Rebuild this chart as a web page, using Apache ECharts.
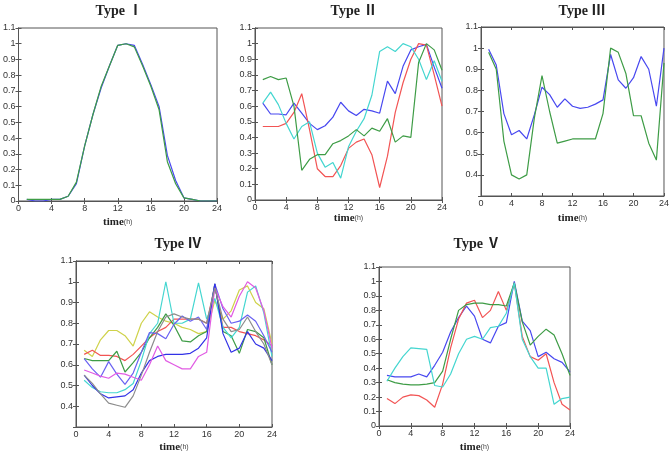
<!DOCTYPE html>
<html>
<head>
<meta charset="utf-8">
<script src="https://cdn.jsdelivr.net/npm/echarts@6/dist/echarts.min.js"></script>
<style>
  html, body { margin: 0; padding: 0; background: #fff; }
  #chart { width: 672px; height: 454px; }
</style>
</head>
<body>
<div id="chart"></div>
<script>
// hours 1..24
const hours = [1, 2, 3, 4, 5, 6, 7, 8, 9, 10, 11, 12, 13, 14, 15, 16, 17, 18, 19, 20, 21, 22, 23, 24];
const xTicks = [0, 4, 8, 12, 16, 20, 24];

// Type I
const t1Blue = [0.01, 0.0, 0.0, 0.01, 0.01, 0.03, 0.11, 0.35, 0.55, 0.72, 0.86, 0.99, 1.0, 0.99, 0.87, 0.74, 0.6, 0.29, 0.13, 0.02, 0.01, 0.0, 0.0, 0.0];
const t1Green = [0.01, 0.01, 0.01, 0.01, 0.01, 0.03, 0.12, 0.35, 0.55, 0.73, 0.86, 0.99, 1.0, 0.98, 0.86, 0.73, 0.58, 0.25, 0.11, 0.02, 0.01, 0.0, 0.0, 0.0];

// Type II
const t2Blue = [0.62, 0.55, 0.55, 0.545, 0.62, 0.555, 0.49, 0.45, 0.475, 0.53, 0.625, 0.57, 0.54, 0.58, 0.57, 0.555, 0.76, 0.68, 0.855, 0.96, 0.98, 0.995, 0.85, 0.715];
const t2Red = [0.47, 0.47, 0.47, 0.49, 0.56, 0.68, 0.45, 0.2, 0.15, 0.15, 0.22, 0.33, 0.37, 0.39, 0.29, 0.08, 0.28, 0.56, 0.75, 0.9, 1.0, 0.99, 0.8, 0.6];
const t2Cyan = [0.62, 0.69, 0.61, 0.49, 0.39, 0.47, 0.5, 0.3, 0.21, 0.24, 0.14, 0.34, 0.44, 0.52, 0.67, 0.95, 0.98, 0.95, 1.0, 0.98, 0.9, 0.77, 0.89, 0.76];
const t2Green = [0.77, 0.79, 0.77, 0.78, 0.6, 0.19, 0.26, 0.29, 0.29, 0.36, 0.38, 0.41, 0.45, 0.41, 0.46, 0.44, 0.52, 0.37, 0.41, 0.4, 0.88, 1.0, 0.96, 0.83];

// Type III
const t3Blue = [0.995, 0.92, 0.69, 0.59, 0.61, 0.57, 0.685, 0.815, 0.78, 0.72, 0.76, 0.725, 0.715, 0.72, 0.735, 0.755, 0.97, 0.85, 0.81, 0.86, 0.96, 0.9, 0.725, 1.0];
const t3Green = [0.98, 0.9, 0.56, 0.4, 0.38, 0.4, 0.67, 0.87, 0.7, 0.55, 0.56, 0.57, 0.57, 0.57, 0.57, 0.69, 1.0, 0.98, 0.88, 0.68, 0.68, 0.55, 0.47, 0.93];

// Type IV
const t4Yellow = [0.67, 0.64, 0.72, 0.765, 0.765, 0.74, 0.69, 0.8, 0.855, 0.83, 0.81, 0.8, 0.78, 0.77, 0.75, 0.76, 0.91, 0.82, 0.86, 0.96, 0.98, 0.9, 0.87, 0.7];
const t4Red = [0.65, 0.67, 0.645, 0.645, 0.64, 0.62, 0.65, 0.69, 0.73, 0.76, 0.78, 0.82, 0.82, 0.82, 0.82, 0.8, 0.98, 0.78, 0.78, 0.76, 0.75, 0.74, 0.72, 0.69];
const t4Green = [0.63, 0.62, 0.62, 0.62, 0.665, 0.565, 0.61, 0.66, 0.73, 0.78, 0.845, 0.79, 0.715, 0.71, 0.74, 0.76, 0.99, 0.76, 0.74, 0.655, 0.77, 0.76, 0.73, 0.6];
const t4Cyan = [0.525, 0.49, 0.47, 0.465, 0.465, 0.48, 0.51, 0.62, 0.75, 0.8, 1.0, 0.8, 0.8, 0.82, 0.995, 0.82, 0.92, 0.78, 0.73, 0.78, 0.95, 0.98, 0.85, 0.64];
const t4Blue = [0.63, 0.58, 0.54, 0.615, 0.555, 0.505, 0.56, 0.66, 0.755, 0.75, 0.725, 0.795, 0.835, 0.81, 0.83, 0.77, 0.99, 0.87, 0.8, 0.81, 0.84, 0.81, 0.74, 0.66];
const t4Navy = [0.55, 0.5, 0.46, 0.44, 0.445, 0.45, 0.48, 0.56, 0.62, 0.64, 0.65, 0.65, 0.65, 0.655, 0.68, 0.73, 0.99, 0.75, 0.66, 0.68, 0.76, 0.7, 0.68, 0.62];
const t4Magenta = [0.575, 0.56, 0.545, 0.535, 0.56, 0.555, 0.54, 0.525, 0.6, 0.69, 0.62, 0.6, 0.58, 0.58, 0.64, 0.66, 0.97, 0.88, 0.83, 0.93, 1.0, 0.97, 0.86, 0.68];
const t4Gray = [0.55, 0.51, 0.46, 0.415, 0.405, 0.395, 0.45, 0.55, 0.66, 0.76, 0.83, 0.845, 0.83, 0.82, 0.82, 0.8, 0.97, 0.82, 0.76, 0.77, 0.83, 0.76, 0.7, 0.6];

// Type V
const t5Blue = [0.35, 0.34, 0.34, 0.34, 0.36, 0.34, 0.42, 0.51, 0.65, 0.75, 0.83, 0.76, 0.6, 0.575, 0.69, 0.715, 1.0, 0.725, 0.66, 0.48, 0.51, 0.465, 0.44, 0.375];
const t5Red = [0.19, 0.155, 0.2, 0.215, 0.21, 0.18, 0.13, 0.29, 0.54, 0.74, 0.85, 0.87, 0.75, 0.8, 0.93, 0.8, 0.99, 0.62, 0.48, 0.455, 0.5, 0.3, 0.15, 0.11];
const t5Green = [0.32, 0.3, 0.29, 0.285, 0.285, 0.29, 0.3, 0.38, 0.6, 0.8, 0.84, 0.85, 0.85, 0.84, 0.84, 0.83, 0.99, 0.72, 0.56, 0.62, 0.67, 0.63, 0.5, 0.35];
const t5Cyan = [0.31, 0.4, 0.48, 0.54, 0.535, 0.53, 0.28, 0.27, 0.36, 0.5, 0.6, 0.62, 0.6, 0.68, 0.69, 0.78, 0.99, 0.6, 0.48, 0.4, 0.4, 0.15, 0.19, 0.2];

const C = {
  blue: '#4848f0', navy: '#3232e6', red: '#f25454', green: '#3e9c46', cyan: '#44d6d0',
  yellow: '#cfd24a', magenta: '#e15ce3', gray: '#8c8c8c'
};

// panel layout: grid box + title + y range
const panels = [
  { title: 'Type Ⅰ', left: 14, top: 28, width: 203, height: 173, ymin: 0, gap: 16, tx: 119, ty: 11,
    lines: [[t1Blue, C.blue], [t1Green, C.green]] },
  { title: 'Type Ⅱ', left: 255, top: 28, width: 187, height: 172, ymin: 0, gap: 13, tx: 354, ty: 11,
    lines: [[t2Blue, C.blue], [t2Red, C.red], [t2Cyan, C.cyan], [t2Green, C.green]] },
  { title: 'Type Ⅲ', left: 481, top: 27, width: 190, height: 169, ymin: 0.3, gap: 17, tx: 582, ty: 11,
    lines: [[t3Blue, C.blue], [t3Green, C.green]] },
  { title: 'Type Ⅳ', left: 76, top: 261, width: 196, height: 168, ymin: 0.3, gap: 15, tx: 178, ty: 244,
    lines: [[t4Yellow, C.yellow], [t4Red, C.red], [t4Green, C.green], [t4Cyan, C.cyan], [t4Blue, '#6a62f2'],
            [t4Navy, C.navy], [t4Magenta, C.magenta], [t4Gray, C.gray]] },
  { title: 'Type Ⅴ', left: 379, top: 267, width: 191, height: 162, ymin: 0, gap: 16, tx: 477, ty: 244,
    lines: [[t5Blue, C.blue], [t5Red, C.red], [t5Green, C.green], [t5Cyan, C.cyan]] }
];

const grid = [], xAxis = [], yAxis = [], series = [], graphic = [];
const labelStyle = { fontSize: 9, color: '#333', fontFamily: 'Liberation Sans' };

panels.forEach((p, i) => {
  grid.push({ left: p.left, top: p.top, width: p.width, height: p.height,
    show: true, borderColor: '#555', borderWidth: 1, backgroundColor: '#fff' });

  // bottom axis with labels
  xAxis.push({
    gridIndex: i, type: 'value', min: 0, max: 24, interval: 4,
    name: '{a|time}{b|(h)}', nameLocation: 'middle', nameGap: p.gap,
    nameTextStyle: { rich: {
      a: { fontFamily: 'Liberation Serif', fontWeight: 'bold', fontSize: 11, color: '#222' },
      b: { fontFamily: 'Liberation Sans', fontSize: 7, color: '#444' } } },
    axisLine: { show: true, lineStyle: { color: '#555' } },
    axisTick: { inside: true, length: 3, lineStyle: { color: '#555' } },
    axisLabel: Object.assign({ margin: 3 }, labelStyle),
    splitLine: { show: false }
  });
  // top axis ticks only
  xAxis.push({
    gridIndex: i, type: 'value', position: 'top', min: 0, max: 24, interval: 4,
    axisLine: { show: true, lineStyle: { color: '#555' } },
    axisTick: { inside: true, length: 3, lineStyle: { color: '#555' } },
    axisLabel: { show: false }, splitLine: { show: false }
  });
  yAxis.push({
    gridIndex: i, type: 'value', min: p.ymin, max: 1.1, interval: 0.1,
    axisLine: { show: true, lineStyle: { color: '#555' } },
    axisTick: { inside: true, length: 3, lineStyle: { color: '#555' } },
    axisLabel: Object.assign({ margin: 3,
      formatter: v => (p.ymin > 0 && v < p.ymin + 0.05) ? '' : String(Math.round(v * 10) / 10) }, labelStyle),
    splitLine: { show: false }
  });
  yAxis.push({
    gridIndex: i, type: 'value', position: 'right', min: p.ymin, max: 1.1, interval: 0.1,
    axisLine: { show: true, lineStyle: { color: '#555' } },
    axisTick: { inside: true, length: 3, lineStyle: { color: '#555' } },
    axisLabel: { show: false }, splitLine: { show: false }
  });

  p.lines.forEach(([vals, color]) => {
    series.push({
      type: 'line', xAxisIndex: i * 2, yAxisIndex: i * 2,
      data: hours.map((h, k) => [h, vals[k]]),
      showSymbol: false, symbol: 'none',
      lineStyle: { color: color, width: 1.2 },
      itemStyle: { color: color },
      animation: false
    });
  });

  graphic.push({
    type: 'text', x: p.tx, y: p.ty,
    style: { text: p.title, fill: '#222', font: 'bold 14px "Liberation Serif", "Noto Sans CJK SC", serif',
      textAlign: 'center', textVerticalAlign: 'middle' }
  });
});

const chart = echarts.init(document.getElementById('chart'));
chart.setOption({
  animation: false,
  grid: grid,
  xAxis: xAxis,
  yAxis: yAxis,
  series: series,
  graphic: graphic
});
</script>
</body>
</html>
